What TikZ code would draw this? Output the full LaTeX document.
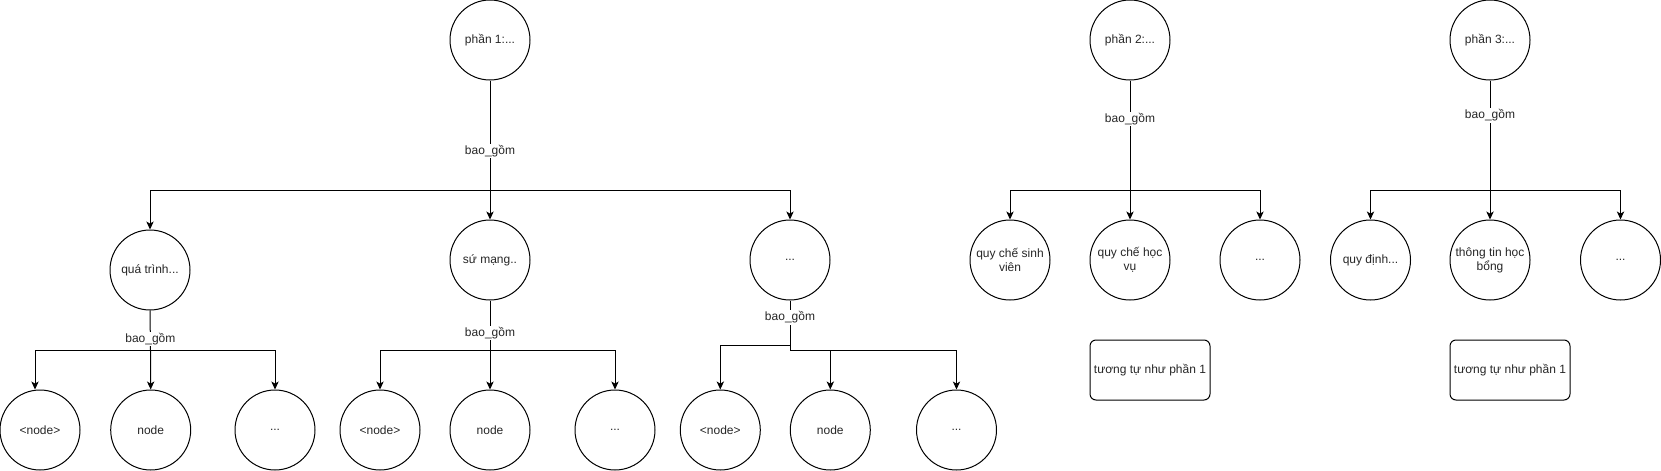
\documentclass[tikz,border=0pt]{standalone}
\usepackage{fontspec}
\setmainfont{Liberation Sans}
\usetikzlibrary{arrows.meta}
\begin{document}
\begin{tikzpicture}[x=0.75pt,y=-0.75pt,
  every node/.style={font=\fontsize{9pt}{10.5pt}\selectfont, text=black!85},
  circ/.style={draw, circle, line width=0.75pt, minimum size=60pt, inner sep=0pt, align=center},
  rbox/.style={draw, rectangle, rounded corners=4.5pt, line width=0.75pt, minimum width=90pt, minimum height=45pt, inner sep=0pt, align=center},
  ln/.style={line width=0.75pt, draw=black},
  arr/.style={line width=0.75pt, draw=black, -{Stealth[length=6pt,width=5.5pt,inset=1.6pt]}},
  lbl/.style={fill=white, inner sep=1pt}
]
\useasboundingbox (0,0) rectangle (1661,471);
% ---------- part 1 ----------
\node[circ] (p1) at (490,40) {phần 1:...};
\node[circ] (c11) at (150,270) {quá trình...};
\node[circ] (c12) at (490,260) {sứ mạng..};
\node[circ] (c13) at (790,260) {...};
\node[circ] (n111) at (40,430) {<node>};
\node[circ] (n112) at (150.7,430) {node};
\node[circ] (n113) at (275,430) {...};
\node[circ] (n121) at (380,430) {<node>};
\node[circ] (n122) at (490,430) {node};
\node[circ] (n123) at (615,430) {...};
\node[circ] (n131) at (720.3,430) {<node>};
\node[circ] (n132) at (830.3,430) {node};
\node[circ] (n133) at (956.5,430) {...};
\coordinate (j1) at (490,190.7);
\coordinate (j11) at (150.5,350.7);
\coordinate (j12) at (490,350.7);
\coordinate (j13a) at (790,345);
\coordinate (j13b) at (790,350.7);
\draw[ln] (p1.south) -- node[lbl,pos=0.64]{bao\_gồm} (j1);
\draw[arr] (j1) -| (c11.north);
\draw[arr] (j1) -- (c12.north);
\draw[arr] (j1) -| (c13.north);
\draw[ln] (c11.south) -- node[lbl,pos=0.71]{bao\_gồm} (j11);
\draw[arr] (j11) -| ([xshift=-3.75pt]n111.north);
\draw[arr] (j11) -- (n112.north);
\draw[arr] (j11) -| (n113.north);
\draw[ln] (c12.south) -- node[lbl,pos=0.645]{bao\_gồm} (j12);
\draw[arr] (j12) -| (n121.north);
\draw[arr] (j12) -- (n122.north);
\draw[arr] (j12) -| (n123.north);
\draw[ln] (c13.south) -- node[lbl,pos=0.38]{bao\_gồm} (j13a);
\draw[arr] (j13a) -| (n131.north);
\draw[ln] (j13a) -- (j13b);
\draw[arr] (j13b) -| (n132.north);
\draw[arr] (j13b) -| (n133.north);
% ---------- part 2 ----------
\node[circ] (p2) at (1130,40) {phần 2:...};
\node[circ] (c21) at (1010,260) {quy chế sinh\\viên};
\node[circ] (c22) at (1130,260) {quy chế học\\vụ};
\node[circ] (c23) at (1260,260) {...};
\node[rbox] (b2) at (1150,370) {tương tự như phần 1};
\coordinate (j2) at (1130,190.7);
\draw[ln] (p2.south) -- node[lbl,pos=0.35]{bao\_gồm} (j2);
\draw[arr] (j2) -| (c21.north);
\draw[arr] (j2) -- (c22.north);
\draw[arr] (j2) -| (c23.north);
% ---------- part 3 ----------
\node[circ] (p3) at (1490,40) {phần 3:...};
\node[circ] (c31) at (1370.5,260) {quy định...};
\node[circ] (c32) at (1490,260) {thông tin học\\bổng};
\node[circ] (c33) at (1620.5,260) {...};
\node[rbox] (b3) at (1510,370) {tương tự như phần 1};
\coordinate (j3) at (1490,190.7);
\draw[ln] (p3.south) -- node[lbl,pos=0.316]{bao\_gồm} (j3);
\draw[arr] (j3) -| (c31.north);
\draw[arr] (j3) -- (c32.north);
\draw[arr] (j3) -| (c33.north);
\end{tikzpicture}
\end{document}
